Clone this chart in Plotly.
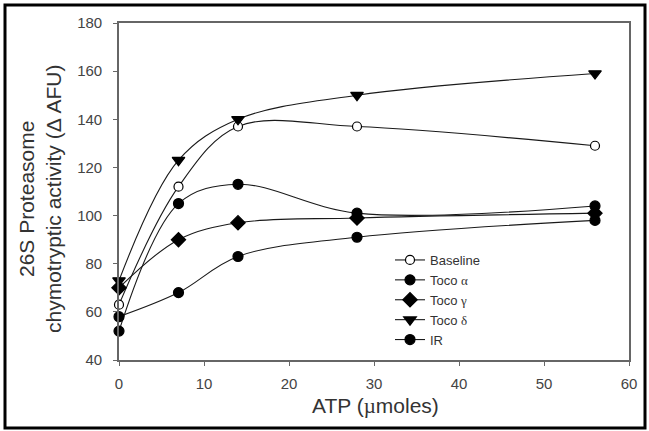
import plotly.graph_objects as go

atp = [0, 7, 14, 28, 56]
baseline = [63, 112, 137, 137, 129]
toco_alpha = [52, 105, 113, 101, 104]
toco_gamma = [70, 90, 97, 99, 101]
toco_delta = [73, 123, 140, 150, 159]
ir = [58, 68, 83, 91, 98]

x_ticks = [0, 10, 20, 30, 40, 50, 60]
y_ticks = [40, 60, 80, 100, 120, 140, 160, 180]

GREEK = "font-family:'Liberation Serif',serif"
series = [
    ("Baseline", baseline, "circle", "white", 9),
    ("Toco <span style=\"%s\">α</span>" % GREEK, toco_alpha, "circle", "black", 10),
    ("Toco <span style=\"%s\">γ</span>" % GREEK, toco_gamma, "diamond", "black", 11),
    ("Toco <span style=\"%s\">δ</span>" % GREEK, toco_delta, "triangle-down", "black", 11),
    ("IR", ir, "circle", "black", 10),
]

W, H = 649, 431
L, R, T, B = 119, 20, 23, 71
pw, ph = W - L - R, H - T - B

def px(xp):
    return (xp - L) / pw

def py(yp):
    return (H - B - yp) / ph

fig = go.Figure()
for name, vals, sym, fill, size in series:
    fig.add_trace(go.Scatter(
        x=atp, y=vals, name=name, mode="lines+markers",
        line=dict(color="#1a1a1a", width=1.1, shape="spline", smoothing=1.0),
        marker=dict(symbol=sym, size=size, color=fill,
                    line=dict(color="black", width=1.2)),
        cliponaxis=False,
    ))

axis_common = dict(
    showline=True, linecolor="#666666", linewidth=1.6, mirror=True,
    ticks="outside", ticklen=4, tickwidth=1.4, tickcolor="#666666",
    showgrid=False, zeroline=False,
    tickfont=dict(family="Liberation Sans, Arial, sans-serif", size=15, color="#444444"),
)

fig.update_xaxes(range=[0, 60], tickvals=x_ticks, ticklabelstandoff=5, **axis_common)
fig.update_yaxes(range=[40, 180], tickvals=y_ticks, ticklabelstandoff=8, **axis_common)

fig.add_annotation(
    text="ATP (<span style=\"%s\">µ</span>moles)" % GREEK,
    xref="paper", yref="paper", x=px(375), y=py(406),
    xanchor="center", yanchor="middle", showarrow=False,
    font=dict(family="Liberation Sans, Arial, sans-serif", size=21, color="#333333"),
)
fig.add_annotation(
    text="26S Proteasome<br>chymotryptic activity (Δ AFU)",
    xref="paper", yref="paper", x=px(40), y=py(199),
    xanchor="center", yanchor="middle", showarrow=False, textangle=-90,
    font=dict(family="Liberation Sans, Arial, sans-serif", size=21, color="#333333"),
)

fig.add_shape(
    type="rect", xref="paper", yref="paper",
    x0=px(5), x1=px(645), y0=py(428), y1=py(5),
    line=dict(color="black", width=3), fillcolor="rgba(0,0,0,0)",
)

fig.update_layout(
    width=W, height=H,
    margin=dict(l=L, r=R, t=T, b=B),
    paper_bgcolor="white", plot_bgcolor="white",
    showlegend=True,
    legend=dict(
        x=px(390), y=py(245), xanchor="left", yanchor="top",
        bgcolor="rgba(0,0,0,0)", borderwidth=0,
        font=dict(family="Liberation Sans, Arial, sans-serif", size=13, color="#333333"),
        itemwidth=30, tracegroupgap=0,
    ),
)

fig.write_html("out.html", config={"displayModeBar": False},
               post_script="document.body.style.margin='0px';")
